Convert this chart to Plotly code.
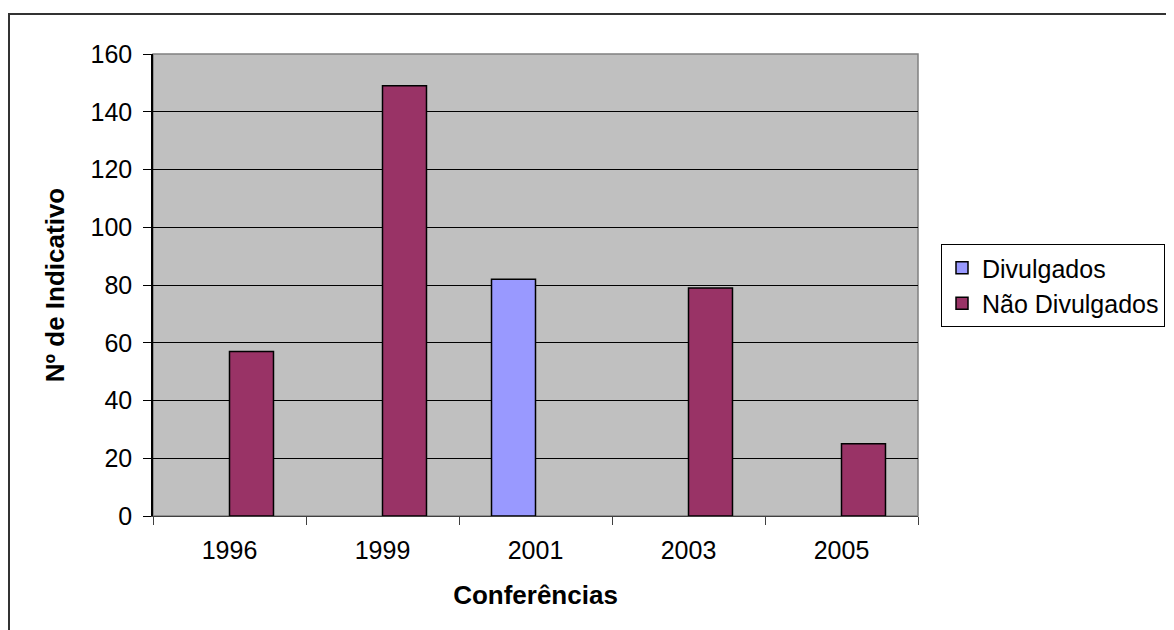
import plotly.graph_objects as go

categories = ["1996", "1999", "2001", "2003", "2005"]
divulgados = [None, None, 82, None, None]
nao_divulgados = [57, 149, None, 79, 25]
y_ticks = [0, 20, 40, 60, 80, 100, 120, 140, 160]

# page has an 8px body margin; work in figure coordinates
OFF = 8
W, H = 1190, 630 - OFF
L, R, T, B = 153 - OFF, 918 - OFF, 54 - OFF, 516 - OFF

font = "Liberation Sans, Arial, sans-serif"

fig = go.Figure()
fig.add_trace(go.Bar(
    name="Divulgados", x=categories, y=divulgados,
    marker=dict(color="#9999FF", line=dict(color="black", width=1.5)),
))
fig.add_trace(go.Bar(
    name="Não Divulgados", x=categories, y=nao_divulgados,
    marker=dict(color="#993366", line=dict(color="black", width=1.5)),
))

def px(xp):
    return (xp - OFF - L) / (R - L)

def py(yp):
    return (B - (yp - OFF)) / (B - T)

fig.update_layout(
    width=W, height=H,
    margin=dict(l=L, r=W - R, t=T, b=H - B, pad=0),
    paper_bgcolor="white",
    plot_bgcolor="#C0C0C0",
    barmode="group",
    bargap=0.425,
    bargroupgap=0,
    font=dict(family=font, size=25, color="black"),
    showlegend=True,
    legend=dict(
        x=px(941), y=py(244), xanchor="left", yanchor="top",
        bordercolor="black", borderwidth=1, bgcolor="white",
        font=dict(family=font, size=25, color="black"),
        itemwidth=30, tracegroupgap=0,
    ),
    xaxis=dict(
        type="category",
        tickson="boundaries", ticks="outside", ticklen=8, tickcolor="#404040",
        showline=True, linecolor="#404040", linewidth=1,
        showgrid=False,
        ticklabelstandoff=12,
        title=dict(text="<b>Conferências</b>", standoff=22,
                   font=dict(family=font, size=26)),
    ),
    yaxis=dict(
        range=[0, 160], tickvals=y_ticks,
        ticks="outside", ticklen=8, tickcolor="black",
        showline=True, linecolor="black", linewidth=1.5,
        showgrid=True, gridcolor="black", gridwidth=1,
        zeroline=False,
        ticklabelstandoff=6,
        title=dict(text="<b>Nº de Indicativo</b>", standoff=18,
                   font=dict(family=font, size=26)),
    ),
    shapes=[
        dict(type="rect", xref="paper", yref="paper", x0=0, x1=1, y0=0, y1=1,
             line=dict(color="#808080", width=1.5), layer="below"),
        dict(type="rect", xref="paper", yref="paper",
             x0=px(9), x1=px(1250), y0=py(700), y1=py(14),
             line=dict(color="#333333", width=2), fillcolor="rgba(0,0,0,0)"),
    ],
)

fig.write_html("out.html")
